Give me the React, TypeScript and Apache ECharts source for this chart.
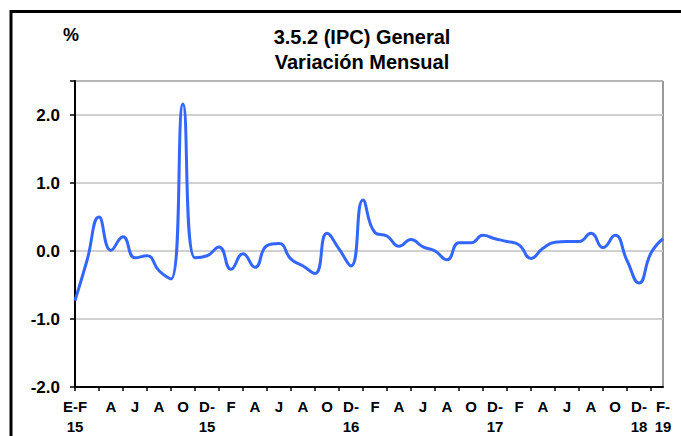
import React, { useEffect, useRef } from "react";
import * as echarts from "echarts";

const categories = [
  "2015-01", "2015-02", "2015-03", "2015-04", "2015-05", "2015-06", "2015-07", "2015-08", "2015-09", "2015-10", "2015-11", "2015-12",
  "2016-01", "2016-02", "2016-03", "2016-04", "2016-05", "2016-06", "2016-07", "2016-08", "2016-09", "2016-10", "2016-11", "2016-12",
  "2017-01", "2017-02", "2017-03", "2017-04", "2017-05", "2017-06", "2017-07", "2017-08", "2017-09", "2017-10", "2017-11", "2017-12",
  "2018-01", "2018-02", "2018-03", "2018-04", "2018-05", "2018-06", "2018-07", "2018-08", "2018-09", "2018-10", "2018-11", "2018-12",
  "2019-01", "2019-02",
];

const values = [
  -0.73, -0.14, 0.5, 0.01, 0.21, -0.1, -0.07, -0.29, -0.41, 2.16, -0.1, -0.07,
  0.06, -0.27, -0.04, -0.24, 0.08, 0.11, -0.12, -0.22, -0.33, 0.26, 0.03, -0.22,
  0.75, 0.27, 0.22, 0.07, 0.17, 0.06, 0.0, -0.13, 0.12, 0.12, 0.23, 0.18,
  0.14, 0.09, -0.11, 0.04, 0.13, 0.14, 0.14, 0.26, 0.05, 0.23, -0.14, -0.47,
  -0.03, 0.18,
];

// labels shown at index 0, then every odd index from 3 onward
const tickLabels = [
  "E-F\n15",
  "A", "J", "A", "O", "D-\n15",
  "F", "A", "J", "A", "O", "D-\n16",
  "F", "A", "J", "A", "O", "D-\n17",
  "F", "A", "J", "A", "O", "D-\n18",
  "F-\n19",
];

const yTicks = [-2, -1, 0, 1, 2];

const titleLines = ["3.5.2 (IPC) General", "Variación Mensual"];
const unitLabel = "%";

const FONT = 'Arial, "Liberation Sans", Helvetica, sans-serif';

function labelIndex(index: number): number {
  if (index === 0) return 0;
  if (index >= 3 && index % 2 === 1) return (index - 1) / 2;
  return -1;
}

export default function App() {
  const ref = useRef<HTMLDivElement>(null);

  useEffect(() => {
    if (!ref.current) return;
    const chart = echarts.init(ref.current, null, { renderer: "svg" });
    chart.setOption({
      animation: false,
      backgroundColor: "#ffffff",
      graphic: [
        {
          type: "rect",
          shape: { x: 11, y: 11.5, width: 900, height: 600 },
          style: { fill: "none", stroke: "#000000", lineWidth: 3 },
          silent: true,
          z: 0,
        },
        {
          type: "text",
          x: 71,
          y: 35,
          style: {
            text: unitLabel,
            font: `bold 18px ${FONT}`,
            fill: "#000000",
            align: "center",
            verticalAlign: "middle",
          },
        },
        {
          type: "text",
          x: 362,
          y: 37,
          style: {
            text: titleLines[0],
            font: `bold 20px ${FONT}`,
            fill: "#000000",
            align: "center",
            verticalAlign: "middle",
          },
        },
        {
          type: "text",
          x: 362,
          y: 62,
          style: {
            text: titleLines[1],
            font: `bold 20px ${FONT}`,
            fill: "#000000",
            align: "center",
            verticalAlign: "middle",
          },
        },
      ],
      grid: {
        left: 75,
        right: 18,
        top: 81,
        bottom: 47,
        show: true,
        borderColor: "#333333",
        borderWidth: 1,
        backgroundColor: "transparent",
        containLabel: false,
      },
      xAxis: {
        type: "category",
        data: categories,
        boundaryGap: false,
        axisLine: { show: true, onZero: false, lineStyle: { color: "#000000", width: 2 } },
        axisTick: {
          show: true,
          length: 4,
          interval: (index: number) => index % 2 === 0,
          lineStyle: { color: "#000000", width: 1.5 },
        },
        axisLabel: {
          interval: (index: number) => labelIndex(index) >= 0,
          formatter: (_v: string, index: number) => {
            const i = labelIndex(index);
            return i >= 0 ? tickLabels[i] : "";
          },
          color: "#000000",
          fontFamily: FONT,
          fontWeight: "bold",
          fontSize: 15,
          lineHeight: 20,
          margin: 9,
        },
        splitLine: { show: false },
      },
      yAxis: {
        type: "value",
        min: yTicks[0],
        max: 2.5,
        interval: 1,
        axisLine: { show: true, lineStyle: { color: "#000000", width: 2 } },
        axisTick: { show: true, length: 5, lineStyle: { color: "#000000", width: 1.5 } },
        axisLabel: {
          formatter: (v: number) => (yTicks.indexOf(v) >= 0 ? v.toFixed(1) : ""),
          color: "#000000",
          fontFamily: FONT,
          fontWeight: "bold",
          fontSize: 17,
          margin: 15,
        },
        splitLine: { show: true, lineStyle: { color: "#c0c0c0", width: 1.5 } },
      },
      series: [
        {
          type: "line",
          data: values,
          smooth: 0.5,
          symbol: "none",
          lineStyle: { color: "#3366ff", width: 3 },
          z: 3,
        },
      ],
    });
    return () => chart.dispose();
  }, []);

  return (
    <div
      ref={ref}
      style={{ position: "absolute", left: 0, top: 0, width: 681, height: 436, background: "#fff" }}
    />
  );
}
